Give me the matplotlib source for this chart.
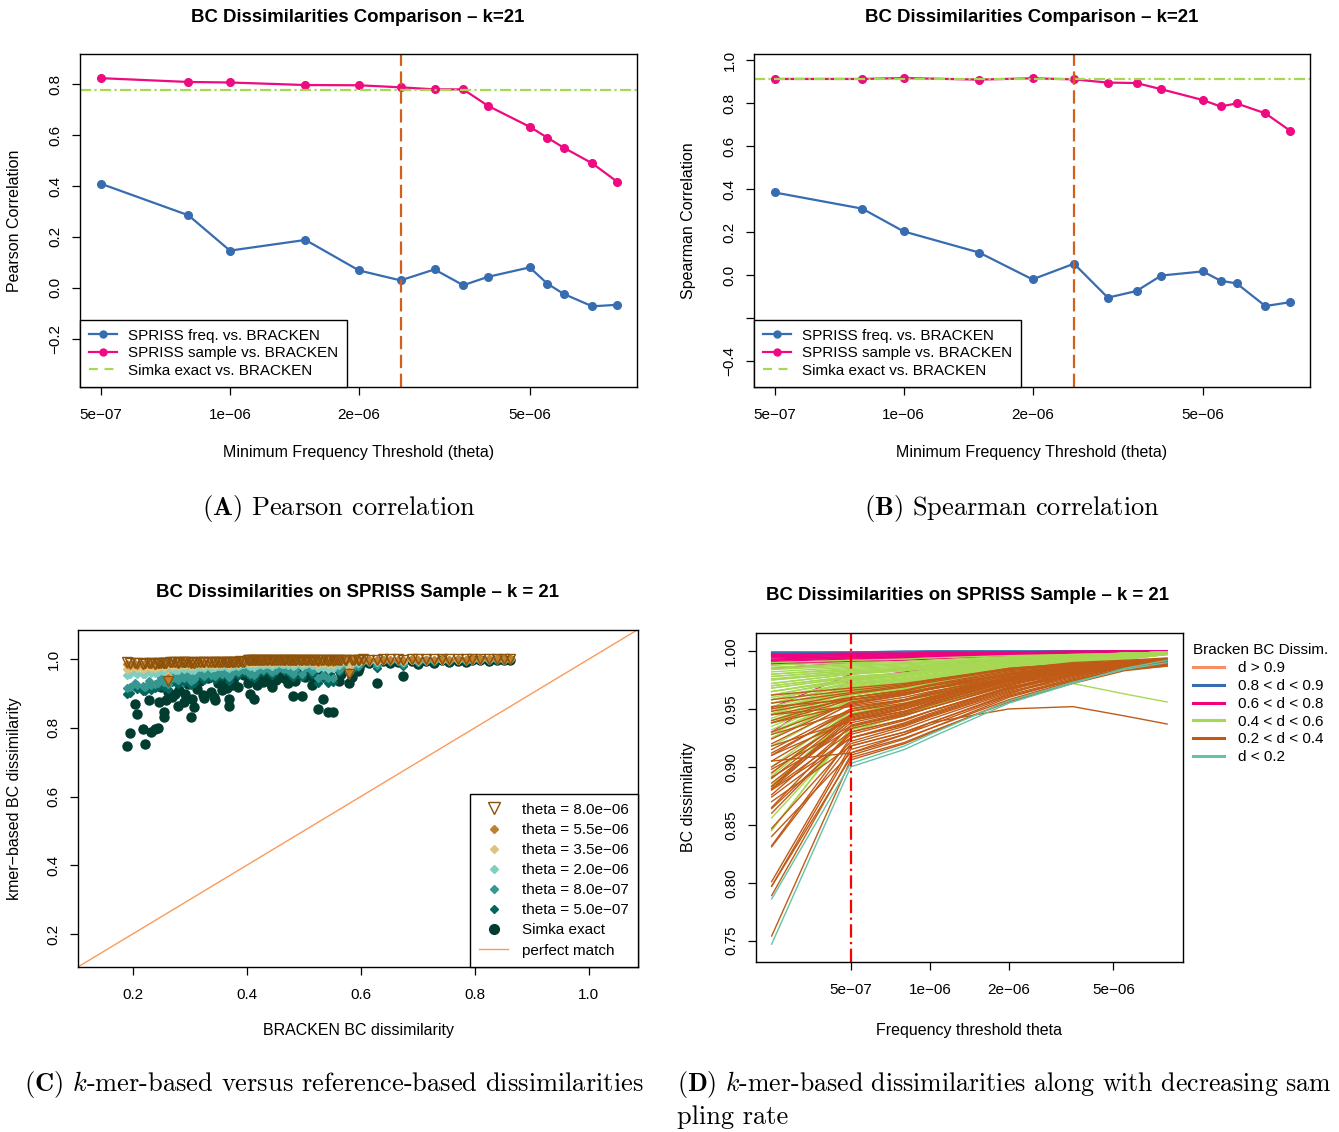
import matplotlib
matplotlib.use("Agg")
import matplotlib.pyplot as plt
from matplotlib.lines import Line2D
from matplotlib.ticker import NullLocator

plt.rcParams['font.family'] = ['Liberation Sans', 'DejaVu Sans']
plt.rcParams['mathtext.fontset'] = 'cm'

W, H = 1339, 1132

# ---- panels A/B : correlation with BRACKEN vs theta
thetas = [5e-7, 8e-7, 1e-6, 1.5e-6, 2e-6, 2.5e-6, 3e-6, 3.5e-6, 4e-6, 5e-6, 5.5e-6, 6e-6, 7e-6, 8e-6]
chosen_theta = 2.5e-6
pearson_freq = [0.409, 0.285, 0.146, 0.188, 0.068, 0.029, 0.072, 0.010, 0.043, 0.080, 0.016, -0.024, -0.073, -0.067]
pearson_sample = [0.824, 0.809, 0.807, 0.797, 0.796, 0.788, 0.780, 0.780, 0.715, 0.633, 0.590, 0.551, 0.489, 0.417]
pearson_simka = 0.776
spearman_freq = [0.384, 0.309, 0.203, 0.105, -0.020, 0.053, -0.105, -0.074, -0.002, 0.017, -0.026, -0.039, -0.144, -0.126]
spearman_sample = [0.912, 0.912, 0.916, 0.909, 0.915, 0.910, 0.895, 0.893, 0.864, 0.814, 0.784, 0.798, 0.752, 0.671]
spearman_simka = 0.912

# ---- panels C/D : one entry per pair of samples
# groups: d<0.2, 0.2-0.4, 0.4-0.6, 0.6-0.8, 0.8-0.9, then extra 0.2-0.4 and 0.4-0.6 pairs
bracken_d = [0.190, 0.196,
             0.207, 0.218, 0.222, 0.233, 0.239, 0.244, 0.247, 0.256, 0.256, 0.258,
             0.262, 0.269, 0.280, 0.281, 0.291, 0.292, 0.302, 0.304, 0.313, 0.323,
             0.326, 0.333, 0.342, 0.345, 0.350, 0.357, 0.362, 0.370, 0.370, 0.374,
             0.380, 0.385, 0.392, 0.395,
             0.402, 0.406, 0.410, 0.413, 0.418, 0.422, 0.428, 0.432, 0.438, 0.443,
             0.448, 0.452, 0.458, 0.463, 0.468, 0.473, 0.478, 0.482, 0.487, 0.492,
             0.497, 0.503, 0.508, 0.513, 0.518, 0.525, 0.534, 0.543, 0.552, 0.540,
             0.558, 0.565, 0.572, 0.580, 0.588, 0.595,
             0.605, 0.615, 0.628, 0.640, 0.652, 0.665, 0.674, 0.690, 0.700, 0.715,
             0.728, 0.742, 0.755, 0.770, 0.785, 0.795,
             0.810, 0.825, 0.840, 0.852, 0.862,
             0.205, 0.228, 0.250, 0.265, 0.275, 0.287, 0.297, 0.308, 0.318, 0.338,
             0.354, 0.366, 0.377, 0.389,
             0.404, 0.415, 0.425, 0.435, 0.445, 0.455, 0.466, 0.476, 0.485, 0.495,
             0.505, 0.515, 0.523, 0.530, 0.547, 0.555, 0.562, 0.575, 0.585, 0.598]
simka_exact = [0.747, 0.786,
               0.840, 0.797, 0.754, 0.789, 0.797, 0.801, 0.874, 0.847, 0.831, 0.881,
               0.905, 0.891, 0.864, 0.910, 0.876, 0.900, 0.832, 0.883, 0.912, 0.895,
               0.886, 0.945, 0.890, 0.881, 0.930, 0.910, 0.940, 0.883, 0.865, 0.924,
               0.950, 0.920, 0.958, 0.955,
               0.930, 0.900, 0.940, 0.883, 0.925, 0.945, 0.935, 0.960, 0.950, 0.928,
               0.965, 0.940, 0.970, 0.955, 0.975, 0.932, 0.980, 0.892, 0.962, 0.985,
               0.894, 0.948, 0.968, 0.988, 0.942, 0.856, 0.884, 0.846, 0.845, 0.972,
               0.990, 0.958, 0.978, 0.930, 0.984, 0.965,
               0.992, 0.988, 0.930, 0.995, 0.990, 0.993, 0.951, 0.996, 0.985, 0.994,
               0.989, 0.997, 0.991, 0.995, 0.992, 0.997,
               0.998, 0.996, 0.999, 0.997, 0.999,
               0.870, 0.880, 0.918, 0.945, 0.898, 0.952, 0.928, 0.860, 0.938, 0.905,
               0.948, 0.915, 0.938, 0.962,
               0.962, 0.972, 0.955, 0.982, 0.918, 0.978, 0.946, 0.968, 0.938, 0.976,
               0.958, 0.925, 0.980, 0.965, 0.952, 0.986, 0.938, 0.970, 0.948, 0.975]
theta_5e7 = [0.900, 0.903,
             0.912, 0.908, 0.906, 0.910, 0.915, 0.918, 0.925, 0.922, 0.920, 0.930,
             0.912, 0.933, 0.928, 0.940, 0.935, 0.942, 0.925, 0.938, 0.948, 0.945,
             0.940, 0.958, 0.944, 0.941, 0.955, 0.950, 0.960, 0.943, 0.936, 0.956,
             0.963, 0.954, 0.966, 0.964,
             0.957, 0.950, 0.962, 0.946, 0.958, 0.966, 0.962, 0.972, 0.968, 0.960,
             0.975, 0.965, 0.978, 0.971, 0.981, 0.963, 0.984, 0.948, 0.974, 0.988,
             0.949, 0.968, 0.977, 0.990, 0.966, 0.930, 0.945, 0.932, 0.934, 0.980,
             0.992, 0.973, 0.983, 0.960, 0.987, 0.976,
             0.994, 0.991, 0.975, 0.996, 0.992, 0.995, 0.980, 0.997, 0.990, 0.995,
             0.992, 0.998, 0.993, 0.996, 0.994, 0.998,
             0.999, 0.997, 0.999, 0.998, 0.999,
             0.918, 0.925, 0.940, 0.952, 0.935, 0.958, 0.948, 0.930, 0.953, 0.945,
             0.960, 0.950, 0.958, 0.968,
             0.975, 0.980, 0.970, 0.986, 0.955, 0.983, 0.967, 0.977, 0.963, 0.982,
             0.972, 0.958, 0.985, 0.975, 0.969, 0.989, 0.962, 0.978, 0.968, 0.981]
theta_8e7 = [0.915, 0.918,
             0.925, 0.921, 0.920, 0.924, 0.928, 0.930, 0.937, 0.935, 0.933, 0.941,
             0.928, 0.944, 0.940, 0.950, 0.946, 0.952, 0.938, 0.948, 0.957, 0.954,
             0.950, 0.965, 0.954, 0.951, 0.962, 0.958, 0.966, 0.953, 0.947, 0.963,
             0.969, 0.962, 0.971, 0.970,
             0.964, 0.958, 0.968, 0.955, 0.965, 0.971, 0.968, 0.976, 0.973, 0.967,
             0.979, 0.970, 0.981, 0.975, 0.984, 0.969, 0.986, 0.957, 0.978, 0.989,
             0.958, 0.973, 0.980, 0.991, 0.971, 0.945, 0.954, 0.944, 0.946, 0.983,
             0.993, 0.977, 0.985, 0.965, 0.989, 0.980,
             0.995, 0.993, 0.982, 0.997, 0.994, 0.996, 0.985, 0.997, 0.992, 0.996,
             0.994, 0.998, 0.995, 0.997, 0.995, 0.998,
             0.999, 0.998, 0.999, 0.998, 1.000,
             0.930, 0.936, 0.948, 0.958, 0.945, 0.963, 0.955, 0.941, 0.960, 0.953,
             0.966, 0.958, 0.964, 0.972,
             0.979, 0.983, 0.975, 0.988, 0.962, 0.985, 0.972, 0.980, 0.969, 0.984,
             0.976, 0.965, 0.987, 0.979, 0.974, 0.990, 0.968, 0.981, 0.973, 0.984]
theta_1e6 = [0.925, 0.928,
             0.933, 0.930, 0.929, 0.933, 0.936, 0.938, 0.945, 0.943, 0.941, 0.948,
             0.938, 0.951, 0.948, 0.956, 0.953, 0.958, 0.946, 0.955, 0.962, 0.960,
             0.957, 0.970, 0.960, 0.958, 0.967, 0.964, 0.971, 0.960, 0.955, 0.968,
             0.973, 0.967, 0.975, 0.974,
             0.969, 0.964, 0.972, 0.961, 0.970, 0.975, 0.973, 0.979, 0.977, 0.972,
             0.982, 0.974, 0.984, 0.978, 0.986, 0.973, 0.988, 0.963, 0.981, 0.990,
             0.964, 0.977, 0.983, 0.992, 0.975, 0.955, 0.960, 0.952, 0.953, 0.985,
             0.994, 0.980, 0.987, 0.969, 0.990, 0.982,
             0.996, 0.994, 0.985, 0.997, 0.995, 0.997, 0.988, 0.998, 0.993, 0.997,
             0.995, 0.998, 0.996, 0.997, 0.996, 0.999,
             0.999, 0.998, 1.000, 0.999, 1.000,
             0.938, 0.944, 0.954, 0.962, 0.951, 0.967, 0.960, 0.948, 0.965, 0.959,
             0.970, 0.963, 0.968, 0.975,
             0.982, 0.985, 0.978, 0.989, 0.967, 0.987, 0.976, 0.983, 0.973, 0.986,
             0.979, 0.970, 0.988, 0.982, 0.977, 0.991, 0.972, 0.984, 0.977, 0.986]
theta_2e6 = [0.955, 0.957,
             0.958, 0.956, 0.957, 0.960, 0.961, 0.962, 0.967, 0.965, 0.964, 0.969,
             0.950, 0.971, 0.968, 0.974, 0.972, 0.975, 0.968, 0.973, 0.977, 0.976,
             0.975, 0.982, 0.977, 0.976, 0.980, 0.979, 0.983, 0.977, 0.974, 0.981,
             0.984, 0.980, 0.985, 0.985,
             0.982, 0.979, 0.984, 0.978, 0.982, 0.985, 0.984, 0.987, 0.986, 0.983,
             0.989, 0.985, 0.990, 0.987, 0.991, 0.984, 0.992, 0.979, 0.988, 0.994,
             0.980, 0.986, 0.989, 0.995, 0.985, 0.975, 0.977, 0.972, 0.973, 0.991,
             0.996, 0.988, 0.992, 0.970, 0.993, 0.989,
             0.997, 0.996, 0.991, 0.998, 0.997, 0.998, 0.993, 0.998, 0.996, 0.998,
             0.997, 0.999, 0.997, 0.998, 0.998, 0.999,
             0.999, 0.999, 1.000, 0.999, 1.000,
             0.963, 0.966, 0.971, 0.976, 0.970, 0.978, 0.975, 0.968, 0.977, 0.974,
             0.980, 0.977, 0.980, 0.984,
             0.988, 0.990, 0.986, 0.993, 0.980, 0.991, 0.985, 0.989, 0.983, 0.991,
             0.987, 0.982, 0.992, 0.988, 0.986, 0.994, 0.983, 0.990, 0.986, 0.991]
theta_35e6 = [0.972, 0.973,
              0.974, 0.972, 0.973, 0.975, 0.975, 0.976, 0.979, 0.978, 0.977, 0.980,
              0.952, 0.981, 0.979, 0.983, 0.982, 0.984, 0.979, 0.982, 0.985, 0.984,
              0.983, 0.987, 0.984, 0.984, 0.986, 0.985, 0.988, 0.984, 0.983, 0.987,
              0.988, 0.986, 0.989, 0.989,
              0.991, 0.989, 0.992, 0.989, 0.991, 0.992, 0.992, 0.993, 0.993, 0.991,
              0.994, 0.992, 0.995, 0.993, 0.995, 0.992, 0.996, 0.989, 0.994, 0.996,
              0.990, 0.993, 0.994, 0.997, 0.992, 0.986, 0.988, 0.985, 0.986, 0.995,
              0.997, 0.994, 0.995, 0.972, 0.996, 0.994,
              0.998, 0.998, 0.995, 0.999, 0.998, 0.999, 0.996, 0.999, 0.998, 0.999,
              0.998, 0.999, 0.998, 0.999, 0.999, 1.000,
              1.000, 1.000, 1.000, 1.000, 1.000,
              0.980, 0.981, 0.983, 0.985, 0.983, 0.986, 0.985, 0.982, 0.986, 0.985,
              0.988, 0.987, 0.988, 0.990,
              0.993, 0.994, 0.992, 0.996, 0.990, 0.995, 0.992, 0.994, 0.991, 0.995,
              0.993, 0.991, 0.995, 0.994, 0.992, 0.996, 0.991, 0.994, 0.993, 0.995]
theta_55e6 = [0.985, 0.984,
              0.984, 0.983, 0.985, 0.985, 0.984, 0.986, 0.987, 0.986, 0.987, 0.988,
              0.944, 0.988, 0.987, 0.989, 0.988, 0.989, 0.987, 0.988, 0.989, 0.989,
              0.989, 0.990, 0.989, 0.989, 0.990, 0.990, 0.991, 0.990, 0.989, 0.990,
              0.991, 0.990, 0.991, 0.991,
              0.996, 0.995, 0.996, 0.995, 0.996, 0.996, 0.996, 0.997, 0.997, 0.996,
              0.997, 0.996, 0.997, 0.997, 0.998, 0.996, 0.998, 0.995, 0.997, 0.998,
              0.995, 0.997, 0.997, 0.998, 0.996, 0.993, 0.994, 0.993, 0.993, 0.998,
              0.998, 0.997, 0.998, 0.963, 0.998, 0.997,
              0.999, 0.999, 0.997, 0.999, 0.999, 0.999, 0.998, 1.000, 0.999, 0.999,
              0.999, 1.000, 0.999, 1.000, 0.999, 1.000,
              1.000, 1.000, 1.000, 1.000, 1.000,
              0.987, 0.987, 0.988, 0.989, 0.988, 0.990, 0.989, 0.987, 0.990, 0.989,
              0.991, 0.990, 0.991, 0.992,
              0.997, 0.997, 0.996, 0.998, 0.995, 0.997, 0.996, 0.997, 0.996, 0.997,
              0.997, 0.996, 0.998, 0.997, 0.996, 0.998, 0.996, 0.997, 0.997, 0.998]
theta_8e6 = [0.992, 0.990,
             0.988, 0.987, 0.989, 0.988, 0.987, 0.989, 0.990, 0.989, 0.990, 0.990,
             0.937, 0.991, 0.990, 0.991, 0.991, 0.991, 0.990, 0.991, 0.992, 0.991,
             0.991, 0.993, 0.991, 0.991, 0.992, 0.992, 0.993, 0.992, 0.991, 0.992,
             0.993, 0.992, 0.993, 0.993,
             0.998, 0.998, 0.998, 0.998, 0.998, 0.999, 0.998, 0.999, 0.999, 0.998,
             0.999, 0.998, 0.999, 0.999, 0.999, 0.998, 0.999, 0.998, 0.999, 0.999,
             0.998, 0.999, 0.999, 0.999, 0.998, 0.997, 0.997, 0.997, 0.997, 0.999,
             0.999, 0.999, 0.999, 0.956, 0.999, 0.999,
             1.000, 0.999, 0.998, 1.000, 1.000, 1.000, 0.999, 1.000, 1.000, 1.000,
             1.000, 1.000, 1.000, 1.000, 1.000, 1.000,
             1.000, 1.000, 1.000, 1.000, 1.000,
             0.990, 0.990, 0.990, 0.991, 0.991, 0.992, 0.991, 0.990, 0.992, 0.991,
             0.993, 0.992, 0.993, 0.994,
             0.999, 0.999, 0.998, 0.999, 0.998, 0.999, 0.998, 0.999, 0.998, 0.999,
             0.999, 0.998, 0.999, 0.999, 0.998, 0.999, 0.998, 0.999, 0.999, 0.999]

# x positions of panel D (first one = Simka exact)
d_positions = [2.5e-7, 5e-7, 8e-7, 1e-6, 2e-6, 3.5e-6, 5.5e-6, 8e-6]

c_blue = '#386CB0'
c_pink = '#EE0A80'
c_green = '#A6D854'
c_orange = '#D2601A'


def rect(l, t, r, b):
    return [l / W, 1 - b / H, (r - l) / W, (b - t) / H]


def style(ax):
    for s in ax.spines.values():
        s.set_linewidth(1.0)
    ax.tick_params(direction='out', length=5.5, width=0.9, labelsize=11, pad=9.5)
    ax.tick_params(axis='y', pad=7)


def ftxt(x, y, s, **kw):
    fig.text(x / W, 1 - y / H, s, **kw)


fig = plt.figure(figsize=(W / 100, H / 100), dpi=100)


def corr_panel(r, freq, sample, simka, ylim, yticks, ylabels, ylab):
    ax = fig.add_axes(r)
    ax.set_xscale('log')
    ax.plot(thetas, freq, color=c_blue, lw=1.6, marker='o', ms=5.5)
    ax.plot(thetas, sample, color=c_pink, lw=1.6, marker='o', ms=5.5)
    ax.axhline(simka, color=c_green, lw=1.6, dashes=(5, 1.5, 1, 1.5))
    ax.axvline(chosen_theta, color=c_orange, lw=1.6, dashes=(6, 2.5))
    ax.set_xlim(4.47e-7, 8.9e-6)
    ax.set_ylim(*ylim)
    ax.set_xticks([5e-7, 1e-6, 2e-6, 5e-6])
    ax.set_xticklabels(['5e\u221207', '1e\u221206', '2e\u221206', '5e\u221206'])
    ax.xaxis.set_minor_locator(NullLocator())
    ax.set_yticks(yticks)
    ax.set_yticklabels(ylabels, rotation=90, va='center')
    style(ax)
    ax.set_xlabel('Minimum Frequency Threshold (theta)', fontsize=11.5, va='center')
    ax.xaxis.set_label_coords(0.5, -66 / 332.7)
    ax.set_ylabel(ylab, fontsize=11.5, va='center')
    handles = [Line2D([], [], color=c_blue, lw=1.6, marker='o', ms=5),
               Line2D([], [], color=c_pink, lw=1.6, marker='o', ms=5),
               Line2D([], [], color=c_green, lw=1.6, dashes=(4, 3))]
    leg = ax.legend(handles, ['SPRISS freq. vs. BRACKEN', 'SPRISS sample vs. BRACKEN',
                              'Simka exact vs. BRACKEN'],
                    loc='lower left', borderaxespad=0, fontsize=11, fancybox=False,
                    edgecolor='black', framealpha=1, handlelength=1.8,
                    labelspacing=0.22, borderpad=0.6, handletextpad=0.75)
    leg.get_frame().set_linewidth(1.0)
    return ax


axA = corr_panel(rect(80, 54, 637, 386.7), pearson_freq, pearson_sample, pearson_simka,
                 (-0.389, 0.919), [-0.2, 0.0, 0.2, 0.4, 0.6, 0.8],
                 ['\u22120.2', '0.0', '0.2', '0.4', '0.6', '0.8'], 'Pearson Correlation')
axA.yaxis.set_label_coords(-65 / 557, 0.5)
axB = corr_panel(rect(754, 54, 1310, 386.7), spearman_freq, spearman_sample, spearman_simka,
                 (-0.519, 1.028), [-0.4, -0.2, 0.0, 0.2, 0.4, 0.6, 0.8, 1.0],
                 ['\u22120.4', '', '0.0', '0.2', '0.4', '0.6', '0.8', '1.0'], 'Spearman Correlation')
axB.yaxis.set_label_coords(-66 / 556, 0.5)

ftxt(358, 17, 'BC Dissimilarities Comparison \u2013 k=21', ha='center', va='center',
     fontsize=13.4, fontweight='bold')
ftxt(1032, 17, 'BC Dissimilarities Comparison \u2013 k=21', ha='center', va='center',
     fontsize=13.4, fontweight='bold')

# ---- panel C
axC = fig.add_axes(rect(78.2, 630, 638, 966.7))
c_series = [
    (simka_exact, 'o', '#003C30', 'Simka exact'),
    (theta_5e7, 'D', '#01665E', 'theta = 5.0e\u221207'),
    (theta_8e7, 'D', '#35978F', 'theta = 8.0e\u221207'),
    (theta_2e6, 'D', '#80CDC1', 'theta = 2.0e\u221206'),
    (theta_35e6, 'D', '#DFC27D', 'theta = 3.5e\u221206'),
    (theta_55e6, 'D', '#BF812D', 'theta = 5.5e\u221206'),
]
for vals, mk, col, lab in c_series:
    if mk == 'o':
        axC.plot(bracken_d, vals, ls='none', marker='o', ms=6.5, color=col)
    else:
        axC.plot(bracken_d, vals, ls='none', marker='D', ms=4.2, color=col)
axC.plot(bracken_d, theta_8e6, ls='none', marker='v', ms=7, mfc='none', mec='#8C510A', mew=1.0)
axC.axline((0, 0), (1, 1), color='#FC9A5A', lw=1.0)
axC.set_xlim(0.1047, 1.0865)
axC.set_ylim(0.105, 1.085)
axC.set_xticks([0.2, 0.4, 0.6, 0.8, 1.0])
axC.set_xticklabels(['0.2', '0.4', '0.6', '0.8', '1.0'])
axC.set_yticks([0.2, 0.4, 0.6, 0.8, 1.0])
axC.set_yticklabels(['0.2', '0.4', '0.6', '0.8', '1.0'], rotation=90, va='center')
style(axC)
axC.set_xlabel('BRACKEN BC dissimilarity', fontsize=11.5, va='center')
axC.xaxis.set_label_coords(0.5, -64 / 336.7)
axC.set_ylabel('kmer\u2212based BC dissimilarity', fontsize=11.5, va='center')
axC.yaxis.set_label_coords(-63.5 / 559.8, 0.5)
c_handles = [Line2D([], [], ls='none', marker='v', ms=8, mfc='none', mec='#8C510A', mew=1.0)]
c_labels = ['theta = 8.0e\u221206']
for vals, mk, col, lab in reversed(c_series):
    if mk == 'o':
        c_handles.append(Line2D([], [], ls='none', marker='o', ms=7, color=col))
    else:
        c_handles.append(Line2D([], [], ls='none', marker='D', ms=4, color=col))
    c_labels.append(lab)
c_handles.append(Line2D([], [], color='#FC9A5A', lw=1.0))
c_labels.append('perfect match')
legC = axC.legend(c_handles, c_labels, loc='lower right', borderaxespad=0, fontsize=11,
                  fancybox=False, edgecolor='black', framealpha=1, handlelength=1.9,
                  labelspacing=0.4, borderpad=0.6, handletextpad=0.9)
legC.get_frame().set_linewidth(1.0)
ftxt(357, 593, 'BC Dissimilarities on SPRISS Sample \u2013 k = 21', ha='center', va='center',
     fontsize=13.4, fontweight='bold')

# ---- panel D
d_classes = [('d > 0.9', '#FC8D62', 0.9, 1.01),
             ('0.8 < d < 0.9', '#386CB0', 0.8, 0.9),
             ('0.6 < d < 0.8', '#F0027F', 0.6, 0.8),
             ('0.4 < d < 0.6', '#A6D854', 0.4, 0.6),
             ('0.2 < d < 0.4', '#BF5B17', 0.2, 0.4),
             ('d < 0.2', '#66C2A5', 0.0, 0.2)]
axD = fig.add_axes(rect(755.5, 632.7, 1182.8, 962))
columns = [simka_exact, theta_5e7, theta_8e7, theta_1e6, theta_2e6, theta_35e6,
           theta_55e6, theta_8e6]
for ci in [1, 2, 3, 4, 5]:
    lab, col, lo, hi = d_classes[ci]
    for i, d in enumerate(bracken_d):
        if lo <= d < hi:
            axD.plot(d_positions, [c[i] for c in columns], color=col, lw=1.0)
axD.axvline(5e-7, color='#FF0000', lw=1.6, dashes=(6, 2, 1, 2))
axD.set_xscale('log')
axD.set_xlim(2.17e-7, 9.18e-6)
axD.set_ylim(0.7316, 1.0158)
axD.set_xticks([5e-7, 1e-6, 2e-6, 5e-6])
axD.set_xticklabels(['5e\u221207', '1e\u221206', '2e\u221206', '5e\u221206'])
axD.xaxis.set_minor_locator(NullLocator())
axD.set_yticks([0.75, 0.80, 0.85, 0.90, 0.95, 1.00])
axD.set_yticklabels(['0.75', '0.80', '0.85', '0.90', '0.95', '1.00'], rotation=90, va='center')
style(axD)
axD.set_xlabel('Frequency threshold theta', fontsize=11.5, va='center')
axD.xaxis.set_label_coords(0.5, -68 / 329.3)
axD.set_ylabel('BC dissimilarity', fontsize=11.5, va='center')
axD.yaxis.set_label_coords(-66.5 / 427.3, 0.5)
d_handles = [Line2D([], [], color=c[1], lw=2.2) for c in d_classes]
legD = axD.legend(d_handles, [c[0] for c in d_classes], title='Bracken BC Dissim.',
                  loc='upper left', bbox_to_anchor=(1.0, 1.0), frameon=False, fontsize=11,
                  title_fontsize=11, handlelength=2.0, labelspacing=0.25,
                  handletextpad=0.9, borderaxespad=0.3, alignment='left')
ftxt(968, 595, 'BC Dissimilarities on SPRISS Sample \u2013 k = 21', ha='center', va='center',
     fontsize=13.4, fontweight='bold')

# ---- captions
cap = dict(fontfamily='cmr10', fontsize=19, va='center')
ftxt(339, 508, r'$(\mathbf{A})$ Pearson correlation', ha='center', **cap)
ftxt(1012, 508, r'$(\mathbf{B})$ Spearman correlation', ha='center', **cap)
ftxt(24, 1085, r'$(\mathbf{C})$ $k$-mer-based versus reference-based dissimilarities', ha='left', **cap)
ftxt(677, 1085, r'$(\mathbf{D})$ $k$-mer-based dissimilarities along with decreasing sam',
     ha='left', fontfamily='cmr10', fontsize=18.6, va='center')
ftxt(677, 1117, 'pling rate', ha='left', **cap)

fig.savefig('out.png', dpi=100)
